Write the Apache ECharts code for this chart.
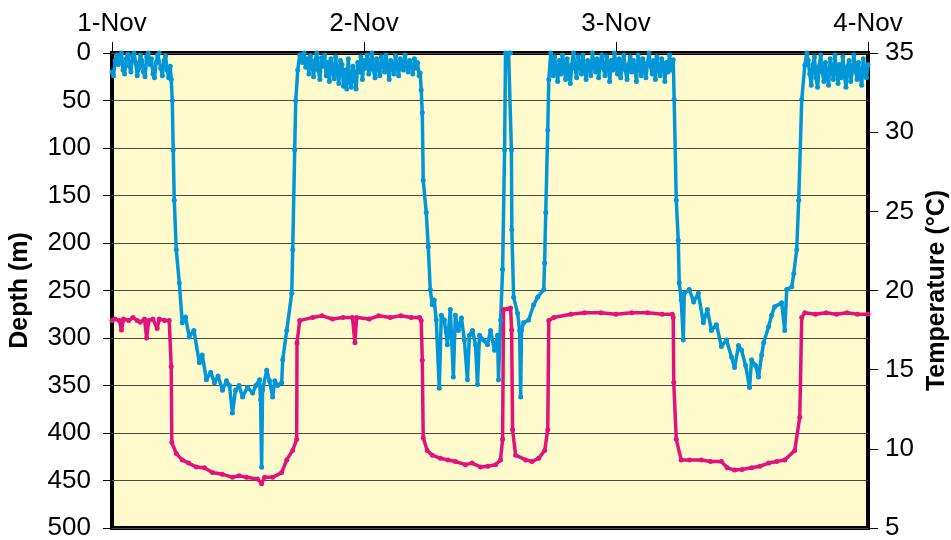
<!DOCTYPE html>
<html>
<head>
<meta charset="utf-8">
<script src="https://cdn.jsdelivr.net/npm/echarts@6/dist/echarts.min.js"></script>
<style>
  html, body { margin: 0; padding: 0; background: #fff; }
</style>
</head>
<body>
<div id="main" style="width: 951px;height:540px;"></div>
<script type="text/javascript">
    // x values are hours since 1-Nov 00:00
    var dayLabels = ['1-Nov', '2-Nov', '3-Nov', '4-Nov'];

    // depth (m) : [hour, depth]
    var depthData = [
        // at surface, night of 31-Oct / 1-Nov
        [0.00,20],[0.15,24],[0.30,8],[0.45,2],[0.60,12],[0.75,5],[0.90,0],[1.05,18],[1.20,22],[1.35,6],
        [1.50,1],[1.65,14],[1.80,20],[1.95,3],[2.10,0],[2.25,10],[2.40,24],[2.55,16],[2.70,2],[2.85,8],
        [3.00,20],[3.15,25],[3.30,4],[3.45,0],[3.60,12],[3.75,6],[3.90,22],[4.05,26],[4.20,10],[4.35,2],
        [4.50,0],[4.65,16],[4.80,24],[4.95,8],[5.10,3],[5.25,18],[5.40,26],[5.55,14],
        // dive 1
        [5.64,28],[5.74,50],[5.83,102],[5.93,155],[6.12,207],[6.41,242],[6.69,284],[7.0,278],
        [7.36,299],[7.8,292],[8.32,326],[8.6,318],[8.99,344],[9.4,336],[9.75,347],[10.1,340],
        [10.52,355],[10.9,345],[11.19,350],[11.47,379],[11.76,355],[12.1,350],[12.43,362],
        [12.9,352],[13.39,358],[13.7,350],[14.06,344],[14.15,365],[14.25,436],[14.34,355],
        [14.73,334],[15.0,345],[15.30,362],[15.5,345],[15.78,350],[16.16,347],[16.26,323],
        [16.64,292],[17.12,253],[17.21,207],[17.40,102],[17.50,50],[17.69,18],[17.88,2],
        // at surface, night of 1/2-Nov
        [18.00,2],[18.15,10],[18.30,0],[18.45,15],[18.60,6],[18.75,22],[18.90,3],[19.05,12],[19.20,25],[19.35,8],
        [19.50,0],[19.65,18],[19.80,28],[19.95,5],[20.10,14],[20.25,2],[20.40,24],[20.55,10],[20.70,30],[20.85,6],
        [21.00,16],[21.15,27],[21.30,4],[21.45,20],[21.60,32],[21.75,8],[21.90,12],[22.05,35],[22.20,18],[22.35,38],
        [22.50,6],[22.65,30],[22.80,36],[22.95,14],[23.10,24],[23.25,38],[23.40,10],[23.55,20],[23.70,4],[23.85,28],
        [24.00,8],[24.15,16],[24.30,2],[24.45,22],[24.60,12],[24.75,0],[24.90,18],[25.05,26],[25.20,6],[25.35,14],
        [25.50,24],[25.65,4],[25.80,10],[25.95,20],[26.10,2],[26.25,16],[26.40,28],[26.55,8],[26.70,12],[26.85,22],
        [27.00,3],[27.15,15],[27.30,24],[27.45,6],[27.60,10],[27.75,18],[27.90,2],[28.05,12],[28.20,20],[28.35,8],
        [28.50,14],[28.65,22],[28.80,6],[28.95,16],[29.10,10],[29.25,24],
        // dive 2 with short surfacing
        [29.35,21],[29.45,39],[29.55,63],[29.64,134],[29.93,168],[30.12,204],[30.31,249],
        [30.50,265],[30.69,260],[30.88,281],[31.17,353],[31.36,276],[31.65,281],[31.94,307],
        [32.22,270],[32.51,341],[32.70,276],[32.99,292],[33.28,279],[33.56,302],[33.85,344],
        [34.04,297],[34.33,292],[34.62,307],[34.81,349],[35.00,297],[35.38,302],[35.76,307],
        [36.05,292],[36.43,313],[36.72,297],[36.81,344],[37.01,281],[37.20,228],[37.39,102],
        [37.48,0],[37.77,0],[37.96,0],[38.04,102],[38.08,186],[38.25,257],[38.63,274],
        [38.82,292],[38.92,362],[39.0,292],[39.20,284],[39.68,281],[40.16,265],[40.54,257],
        [41.12,249],[41.2,221],[41.31,168],[41.50,81],[41.60,28],[41.79,0],
        // at surface, night of 2/3-Nov
        [41.85,10],[42.00,24],[42.15,4],[42.30,18],[42.45,30],[42.60,8],[42.75,22],[42.90,2],[43.05,14],[43.20,28],
        [43.35,6],[43.50,20],[43.65,32],[43.80,12],[43.95,0],[44.10,16],[44.25,26],[44.40,4],[44.55,10],[44.70,22],
        [44.85,2],[45.00,18],[45.15,28],[45.30,8],[45.45,14],[45.60,24],[45.75,0],[45.90,12],[46.05,20],[46.20,6],
        [46.35,26],[46.50,10],[46.65,2],[46.80,16],[46.95,24],[47.10,4],[47.25,12],[47.40,30],[47.55,8],[47.70,18],
        [47.85,0],[48.00,14],[48.15,22],[48.30,6],[48.45,26],[48.60,10],[48.75,2],[48.90,18],[49.05,28],[49.20,12],
        [49.35,4],[49.50,20],[49.65,8],[49.80,16],[49.95,30],[50.10,2],[50.25,12],[50.40,24],[50.55,6],[50.70,18],
        [50.85,26],[51.00,10],[51.15,0],[51.30,14],[51.45,22],[51.60,8],[51.75,28],[51.90,4],[52.05,16],[52.20,24],
        [52.35,6],[52.50,12],[52.65,30],[52.80,10],[52.95,20],[53.10,2],[53.25,18],
        // dive 3
        [53.45,7],[53.54,49],[53.74,155],[53.93,197],[54.02,242],[54.21,260],[54.41,302],
        [54.50,253],[54.98,249],[55.4,262],[55.84,253],[56.32,284],[56.70,270],[57.09,292],
        [57.57,286],[58.04,309],[58.52,302],[59.00,320],[59.29,331],[59.67,308],[59.96,313],
        [60.34,329],[60.72,352],[60.91,323],[61.29,329],[61.58,341],[61.87,318],[62.06,305],
        [62.54,288],[62.82,276],[63.11,267],[63.78,263],[64.07,292],[64.26,249],[64.74,246],
        [64.93,232],[65.21,207],[65.40,155],[65.69,49],[65.98,13],[66.17,0],
        // at surface, night of 3/4-Nov
        [66.30,8],[66.45,22],[66.60,34],[66.75,12],[66.90,4],[67.05,26],[67.20,36],[67.35,14],[67.50,2],[67.65,20],
        [67.80,30],[67.95,10],[68.10,24],[68.25,34],[68.40,6],[68.55,16],[68.70,28],[68.85,2],[69.00,18],[69.15,32],
        [69.30,12],[69.45,26],[69.60,4],[69.75,22],[69.90,36],[70.05,14],[70.20,8],[70.35,30],[70.50,20],[70.65,2],
        [70.80,16],[70.95,28],[71.10,10],[71.25,24],[71.40,34],[71.55,6],[71.70,18],[71.85,26],[72.00,12]
    ];

    // temperature (°C) : [hour, temp]
    var tempData = [
        [0.0,18.1],[0.3,18.2],[0.7,18.1],[0.9,17.5],[1.1,18.2],[1.6,18.1],[2.0,18.3],[2.4,18.1],
        [2.7,18.0],[3.1,18.2],[3.3,17.0],[3.5,18.1],[3.9,18.2],[4.3,17.6],[4.5,18.2],[5.0,18.1],
        [5.45,18.1],[5.64,15.2],[5.70,10.4],[6.12,9.7],[6.69,9.3],[7.3,9.1],[8.03,8.85],
        [8.8,8.8],[9.56,8.5],[10.5,8.4],[11.47,8.2],[12.1,8.3],[12.81,8.2],[13.86,8.1],
        [14.25,7.8],[14.53,8.2],[15.30,8.2],[16.16,8.5],[16.64,9.3],[17.21,9.9],[17.59,10.6],
        [17.62,16.7],[17.88,18.1],[19.12,18.3],[20.0,18.4],[21.0,18.2],[22.0,18.3],[22.9,18.3],
        [23.14,16.7],[23.3,18.3],[24.5,18.2],[25.4,18.4],[26.5,18.3],[27.5,18.4],[28.5,18.3],
        [29.3,18.3],
        [29.45,18.1],[29.55,15.6],[29.64,10.7],[30.02,9.9],[30.5,9.6],[31.27,9.4],[32.0,9.3],
        [32.70,9.2],[33.66,9.0],[34.3,9.1],[35.09,8.85],[35.8,8.9],[36.53,9.0],[37.0,9.3],
        [37.2,10.6],[37.29,18.8],[37.96,18.9],[38.06,17.5],[38.15,11.2],[38.44,9.6],[39.4,9.3],
        [40.0,9.2],[40.64,9.4],[41.21,9.9],[41.50,11.2],[41.60,18.1],[42.07,18.3],[43.7,18.5],
        [45.0,18.6],[46.57,18.6],[48.0,18.5],[49.5,18.6],[51.0,18.6],[52.4,18.5],[53.36,18.5],
        [53.45,18.3],[53.5,14.2],[53.74,10.6],[54.21,9.3],[55.0,9.3],[56.13,9.3],[57.0,9.2],
        [58.04,9.2],[58.6,8.8],[59.29,8.66],[60.0,8.7],[60.91,8.8],[61.7,8.9],[62.54,9.1],
        [63.3,9.2],[64.07,9.3],[65.02,9.9],[65.50,12.0],[65.69,18.3],[65.98,18.6],[67.0,18.5],
        [68.0,18.6],[69.0,18.5],[70.0,18.6],[71.0,18.5],[72.0,18.5]
    ];

    var myChart = echarts.init(document.getElementById('main'));

    var fontFam = 'Liberation Sans, Arial, sans-serif';
    var depthColor = '#0096D8';
    var tempColor = '#E0137E';

    option = {
        animation: false,
        textStyle: { fontFamily: fontFam },
        grid: {
            left: 112,
            right: 83,
            top: 53,
            bottom: 12,
            outerBoundsMode: 'none',
            containLabel: false,
            show: true,
            backgroundColor: '#FFFACC',
            borderColor: '#000',
            borderWidth: 4
        },
        xAxis: {
            type: 'value',
            position: 'top',
            min: 0,
            max: 72,
            interval: 24,
            axisLine: { show: false },
            axisTick: { show: true, length: 11, lineStyle: { color: '#000', width: 1 } },
            splitLine: { show: false },
            axisLabel: {
                color: '#000',
                fontSize: 26,
                margin: 16,
                fontFamily: fontFam,
                formatter: function (v) { return dayLabels[Math.round(v / 24)]; }
            }
        },
        yAxis: [{
            type: 'value',
            inverse: true,
            min: 0,
            max: 500,
            interval: 50,
            name: 'Depth (m)',
            nameLocation: 'middle',
            nameRotate: 90,
            nameGap: 79,
            nameTextStyle: { color: '#000', fontSize: 25, fontWeight: 'bold', fontFamily: fontFam },
            axisLine: { show: false },
            axisTick: { show: true, length: 9, lineStyle: { color: '#000', width: 1 } },
            axisLabel: { color: '#000', fontSize: 26, margin: 21, fontFamily: fontFam },
            splitLine: { show: true, lineStyle: { color: '#4a4a3a', width: 1 } }
        }, {
            type: 'value',
            position: 'right',
            min: 5,
            max: 35,
            interval: 5,
            name: 'Temperature (°C)',
            nameLocation: 'middle',
            nameRotate: 90,
            nameGap: 55,
            nameTextStyle: { color: '#000', fontSize: 25, fontWeight: 'bold', fontFamily: fontFam },
            axisLine: { show: false },
            axisTick: { show: true, length: 10, lineStyle: { color: '#000', width: 1 } },
            axisLabel: { color: '#000', fontSize: 26, margin: 17, fontFamily: fontFam },
            splitLine: { show: false }
        }],
        series: [{
            name: 'Depth',
            type: 'line',
            yAxisIndex: 0,
            data: depthData,
            symbol: 'circle',
            symbolSize: 5,
            showSymbol: true,
            showAllSymbol: true,
            lineStyle: { color: depthColor, width: 3.5 },
            itemStyle: { color: depthColor }
        }, {
            name: 'Temperature',
            type: 'line',
            yAxisIndex: 1,
            data: tempData,
            symbol: 'circle',
            symbolSize: 5,
            showSymbol: true,
            showAllSymbol: true,
            lineStyle: { color: tempColor, width: 3.5 },
            itemStyle: { color: tempColor }
        }]
    };

    myChart.setOption(option);
</script>
</body>
</html>
